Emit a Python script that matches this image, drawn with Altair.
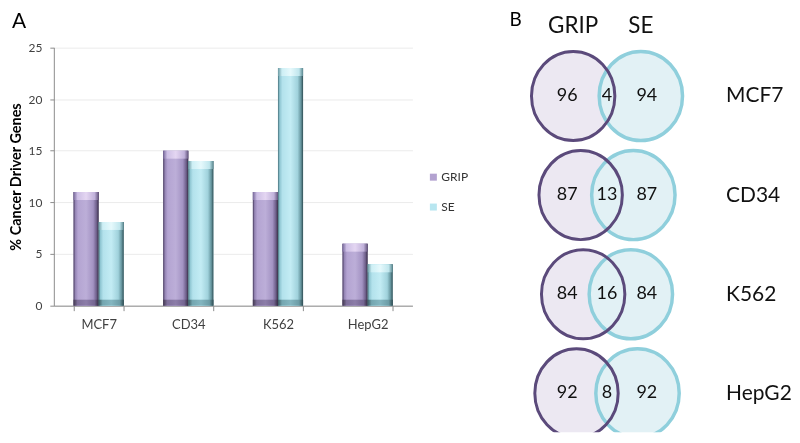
import altair as alt
import pandas as pd

# ---------------- Panel A data ----------------
cell_lines = ["MCF7", "CD34", "K562", "HepG2"]
series = ["GRIP", "SE"]
grip_pct = [11, 15, 11, 6]
se_pct = [8.1, 14, 23, 4]

# ---------------- Panel B data ----------------
grip_only = [96, 87, 84, 92]
shared = [4, 13, 16, 8]
se_only = [94, 87, 84, 92]

panel_labels = ["A", "B"]

FONT = "Lato"

bars = pd.DataFrame({
    "cell": cell_lines * 2,
    "series": ["GRIP"] * len(cell_lines) + ["SE"] * len(cell_lines),
    "value": grip_pct + se_pct,
})


def grad(stops):
    return alt.LinearGradient(
        gradient="linear",
        stops=[alt.GradientStop(color=c, offset=o) for o, c in stops],
        x1=0, x2=1, y1=0, y2=0,
    )


styles = {
    "GRIP": {
        "body": [(0, "#45395a"), (0.07, "#9484b4"), (0.18, "#b4a4d2"), (0.5, "#bcaed8"),
                 (0.78, "#a393c3"), (0.92, "#6c5d88"), (1, "#342b42")],
        "cap": [(0, "#76679a"), (0.16, "#cdbfe5"), (0.5, "#e4d6f2"), (0.84, "#c0b1da"), (1, "#62537c")],
        "bottom": [(0, "#42384f"), (0.16, "#7e6f9a"), (0.5, "#8c7da8"), (0.84, "#746591"), (1, "#342b42")],
    },
    "SE": {
        "body": [(0, "#45707a"), (0.07, "#8fc6d2"), (0.18, "#b3e2ec"), (0.5, "#c3ecf4"),
                 (0.78, "#a0d2dc"), (0.92, "#63929b"), (1, "#2f4c52")],
        "cap": [(0, "#6a99a2"), (0.16, "#cdeff5"), (0.5, "#e6f9fc"), (0.84, "#c0e6ed"), (1, "#59868e")],
        "bottom": [(0, "#3a5a60"), (0.16, "#74a6b0"), (0.5, "#84b6c0"), (0.84, "#6c9ca6"), (1, "#2f4c52")],
    },
}

axis_gray = "#8c8c8c"

x_enc = alt.X(
    "cell:N", sort=cell_lines,
    scale=alt.Scale(domain=cell_lines, paddingInner=0.44, paddingOuter=0.22),
    axis=alt.Axis(title=None, labelAngle=0, tickBand="extent", domainColor=axis_gray,
                  tickColor=axis_gray, tickSize=5, labelFontSize=13, labelColor="#404040",
                  labelPadding=8, grid=False, labelFont=FONT),
)
xo_enc = alt.XOffset("series:N", sort=series,
                     scale=alt.Scale(domain=series, paddingInner=0, paddingOuter=0))
y_scale = alt.Scale(domain=[0, 25], range=[298, 38.7], nice=False, zero=True)
y_enc = alt.Y(
    "value:Q", scale=y_scale,
    axis=alt.Axis(values=[0, 5, 10, 15, 20, 25], title="% Cancer Driver Genes",
                  titleFontSize=14.5, titleFontWeight="bold", titleColor="black",
                  titlePadding=5, titleFont=FONT, labelFont=FONT,
                  labelFontSize=12, labelColor="#404040", labelPadding=8,
                  tickSize=4, tickColor=axis_gray, domainColor=axis_gray,
                  gridColor="#ebebeb"),
)

base = alt.Chart(bars).mark_bar().encode(
    x=x_enc, xOffset=xo_enc, y=y_enc,
    color=alt.Color(
        "series:N", sort=series,
        scale=alt.Scale(domain=series, range=["#b3a2d0", "#b8e6f0"]),
        legend=alt.Legend(title=None, orient="none", legendX=375, legendY=163,
                          symbolType="square", symbolSize=49, symbolStrokeWidth=0,
                          labelFontSize=12, labelColor="#333333", labelOffset=2,
                          rowPadding=18, labelFont=FONT),
    ),
)

layers = [base]
for s in series:
    src = alt.Chart(bars).transform_filter(alt.datum.series == s)
    layers.append(src.mark_bar(fill=grad(styles[s]["body"])).encode(x=x_enc, xOffset=xo_enc, y=y_enc))
    layers.append(src.mark_bar(fill=grad(styles[s]["cap"]), y2Offset=8).encode(
        x=x_enc, xOffset=xo_enc, y=y_enc, y2=alt.Y2("value:Q")))
    layers.append(src.mark_bar(fill=grad(styles[s]["bottom"]), yOffset=-6).encode(
        x=x_enc, xOffset=xo_enc, y=alt.Y("zero:Q", scale=y_scale), y2=alt.Y2("zero:Q"))
        .transform_calculate(zero="0"))

label_a = alt.Chart(pd.DataFrame({"t": [panel_labels[0]]})).mark_text(
    fontSize=21, color="black", align="left", baseline="top", font=FONT
).encode(x=alt.value(-42), y=alt.value(2), text="t:N")
layers.append(label_a)

bar_chart = alt.layer(*layers).properties(width=360, height=298)

# ---------------- Panel B: Venn diagrams ----------------
circ = pd.DataFrame({
    "cell": [c for c in cell_lines for _ in series],
    "set": series * len(cell_lines),
    "shared": [v for v in shared for _ in series],
})
counts = pd.DataFrame({
    "cell": cell_lines * 3,
    "region": ["GRIP"] * 4 + ["both"] * 4 + ["SE"] * 4,
    "count": grip_only + shared + se_only,
})
heads = pd.DataFrame({"set": series})

ELLIPSE = "M -1 0 A 1 1.068 0 1 0 1 0 A 1 1.068 0 1 0 -1 0 Z"

vx_scale = alt.Scale(domain=[-136, 104], nice=False, zero=False)
vy = alt.Y(
    "cell:N", sort=cell_lines,
    scale=alt.Scale(type="point", domain=cell_lines, range=[87.5, 386], padding=0),
    axis=alt.Axis(orient="right", title=None, domain=False, ticks=False, tickSize=0,
                  labelFontSize=21, labelColor="#111111", labelPadding=15, grid=False,
                  labelFont=FONT),
)

cbase = (alt.Chart(circ)
         .transform_calculate(side="datum.set == 'GRIP' ? -1 : 1")
         .transform_calculate(cx="datum.side * (37.3 - 0.835 * datum.shared)"))
vx = alt.X("cx:Q", scale=vx_scale, axis=None)

grip_fill = cbase.transform_filter("datum.set == 'GRIP'").mark_point(
    shape=ELLIPSE, size=7006, filled=True, fill="#ece8f2", opacity=1,
    strokeOpacity=0, clip=True).encode(x=vx, y=vy)
se_fill = cbase.transform_filter("datum.set == 'SE'").mark_point(
    shape=ELLIPSE, size=7006, filled=True, fill="#e2f1f5", opacity=1,
    strokeOpacity=0, blend="multiply", clip=True).encode(x=vx, y=vy)
se_ring = cbase.transform_filter("datum.set == 'SE'").mark_point(
    shape=ELLIPSE, size=7006, filled=False, stroke="#8fcfdc", strokeWidth=3.5,
    opacity=1, clip=True).encode(x=vx, y=vy)
grip_ring = cbase.transform_filter("datum.set == 'GRIP'").mark_point(
    shape=ELLIPSE, size=7006, filled=False, stroke="#5b4a7b", strokeWidth=3,
    opacity=1, clip=True).encode(x=vx, y=vy)

count_text = alt.Chart(counts).transform_calculate(
    tx="datum.region == 'GRIP' ? -40 : (datum.region == 'SE' ? 40 : 0)"
).mark_text(fontSize=18, color="#111111", baseline="middle", font=FONT).encode(
    x=alt.X("tx:Q", scale=vx_scale, axis=None), y=vy, text="count:Q")

head_text = alt.Chart(heads).transform_calculate(
    hx="datum.set == 'GRIP' ? -34 : 34"
).mark_text(fontSize=22.5, color="#111111", baseline="alphabetic", font=FONT).encode(
    x=alt.X("hx:Q", scale=vx_scale, axis=None), y=alt.value(24.5), text="set:N")

label_b = alt.Chart(pd.DataFrame({"t": [panel_labels[1]]})).mark_text(
    fontSize=19, color="black", align="left", baseline="top", font=FONT
).encode(x=alt.value(38), y=alt.value(2), text="t:N")

venn = alt.layer(grip_fill, se_fill, se_ring, grip_ring, count_text, head_text,
                 label_b).properties(width=240, height=425)

chart = (alt.hconcat(bar_chart, venn, spacing=59.3, bounds="flush")
         .resolve_scale(color="independent")
         .properties(padding=0)
         .configure(font=FONT)
         .configure_view(stroke=None))

chart.save("out.html", embed_options={"renderer": "svg", "actions": False})
